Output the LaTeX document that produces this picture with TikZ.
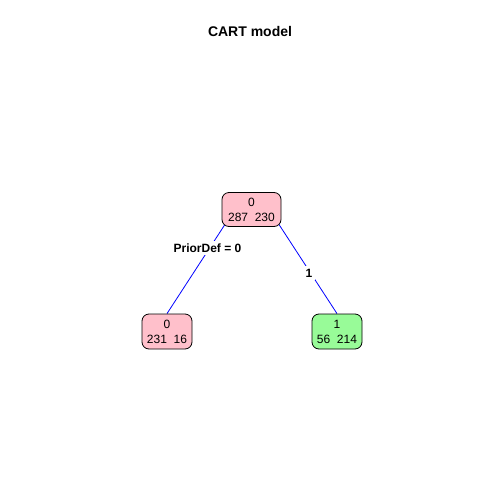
\documentclass[tikz,border=0pt]{standalone}
\usepackage{fontspec}
\setmainfont{Liberation Sans}
\usetikzlibrary{backgrounds}
\definecolor{rpink}{RGB}{255,192,203}
\definecolor{rgreen}{RGB}{152,251,152}
\begin{document}
\begin{tikzpicture}[x=1pt,y=-1pt,
  treenode/.style={draw=black,line width=0.8pt,rounded corners=7pt,align=center,
    font=\fontsize{12}{15}\selectfont,inner sep=0pt},
  splitlabel/.style={fill=white,inner sep=3pt,font=\fontsize{12}{14}\selectfont\bfseries},
  edge/.style={draw=blue,line width=0.8pt}]
\useasboundingbox (0,0) rectangle (504,504);
\node[font=\fontsize{14}{16}\selectfont\bfseries] (title) at (250,31) {CART model};
\node[treenode,fill=rpink,minimum width=59pt,minimum height=34pt] (root) at (251.5,209.5) {0\\287\ \ 230};
\node[treenode,fill=rpink,minimum width=50pt,minimum height=35pt] (left) at (167,331.5) {0\\231\ \ 16};
\node[treenode,fill=rgreen,minimum width=50pt,minimum height=35pt] (right) at (337,331.5) {1\\56\ \ 214};
\coordinate (rl) at (245.4,193);
\coordinate (rr) at (258.5,193);
\begin{pgfonlayer}{background}
\draw[edge] (rl) -- (left.north);
\draw[edge] (rr) -- (right.north);
\end{pgfonlayer}
\node[splitlabel] (lab0) at (207.5,248) {PriorDef = 0};
\node[splitlabel] (lab1) at (309,273) {1};
\end{tikzpicture}
\end{document}
